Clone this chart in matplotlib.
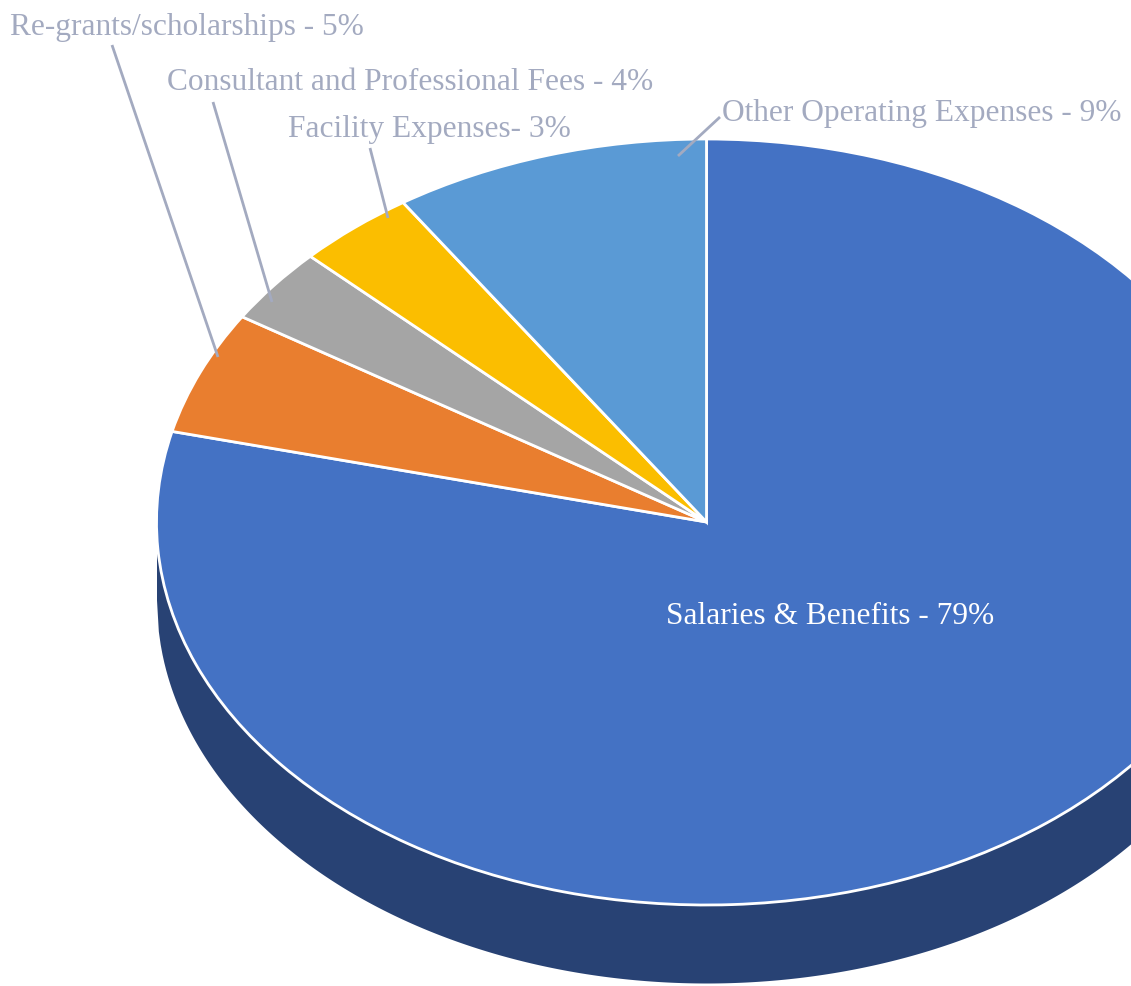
"""3D-style pie of expense breakdown, drawn with matplotlib."""

import numpy as np
import matplotlib
matplotlib.use("Agg")
import matplotlib.pyplot as plt

labels = ["Salaries & Benefits", "Re-grants/scholarships", "Consultant and Professional Fees",
          "Facility Expenses", "Other Operating Expenses"]
# slice shares (label percentages are part of the category text)
values = [78.8, 5.2, 3.2, 3.5, 9.3]
label_texts = ["Salaries & Benefits - 79%", "Re-grants/scholarships - 5%",
               "Consultant and Professional Fees - 4%", "Facility Expenses- 3%",
               "Other Operating Expenses - 9%"]
colors = ["#4472C4", "#E97E2F", "#A5A5A5", "#FBBE00", "#5A9AD5"]

W, H = 1131, 986
CX, CY, RX, RY = 706.5, 522, 550, 383   # pie centre / radii in pixels
DEPTH = 78 / RY                         # thickness of the side, in data units
TEXT_C = "#A3AAC0"


def px(x, y):
    """pixel position -> data coords (unit circle = top face)."""
    return (x - CX) / RX, (CY - y) / RY


fig = plt.figure(figsize=(W / 100, H / 100), dpi=100)
ax = fig.add_axes([0, 0, 1, 1])

# side of the pie (only the front half is visible)
xs = np.linspace(-1, 1, 600)
ax.fill_between(xs, -np.sqrt(1 - xs ** 2) - DEPTH, 0, color="#284274", lw=0, zorder=0)

wedges, _ = ax.pie(values, colors=colors, startangle=90, counterclock=False,
                   radius=1, wedgeprops=dict(edgecolor="white", linewidth=2))

ax.set_aspect("auto")
ax.set_xlim(-CX / RX, (W - CX) / RX)
ax.set_ylim((CY - H) / RY, CY / RY)
ax.axis("off")

font = dict(family="Liberation Serif", fontsize=22.6)

# outside labels: text anchor (left, baseline) and leader line (start, end) in pixels
outside = {
    1: ((10, 35), (112, 45), (218, 357)),
    2: ((167, 90), (213, 102), (272, 302)),
    3: ((288, 137), (370, 148), (388, 218)),
    4: ((722, 121), (720, 117), (678, 156)),
}
for i, (tpos, p0, p1) in outside.items():
    ax.text(*px(*tpos), label_texts[i], color=TEXT_C, ha="left", va="baseline", **font)
    (x0, y0), (x1, y1) = px(*p0), px(*p1)
    ax.plot([x0, x1], [y0, y1], color=TEXT_C, lw=2, solid_capstyle="butt", zorder=3)

ax.text(*px(830, 624), label_texts[0], color="white", ha="center", va="baseline", **font)

fig.savefig("out.png", dpi=100)
